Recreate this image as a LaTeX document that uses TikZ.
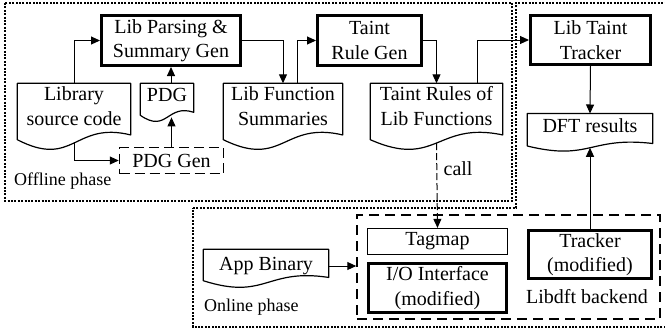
\documentclass[tikz,border=0pt]{standalone}
\usepackage{fontspec}
\setmainfont{Liberation Serif}
\usetikzlibrary{calc,arrows.meta}

\newcommand{\docframe}[3]{%
  \draw[docline] (#1.north west) -- (#1.north east)
    -- ($(#1.south east)+(0,{#2-0.5*#3})$)
    .. controls ($(#1.south)+(0,{#2-1.98*#3})$) and ($(#1.south)+(0,{#2+3.08*#3})$) ..
    ($(#1.south west)+(0,#2)$) -- cycle;
  \coordinate (#1-b) at ($(#1.south)+(0,{#2+0.35*#3})$);
}

\begin{document}
\begin{tikzpicture}[x=1pt,y=-1pt,
    every node/.style={font=\fontsize{20}{24.5}\selectfont},
    heavybox/.style={draw,line width=3pt,inner sep=0pt,align=center},
    plainbox/.style={draw,line width=1.2pt,inner sep=0pt,align=center},
    genbox/.style={draw,line width=1.5pt,dash pattern=on 10pt off 5pt,inner sep=0pt,align=center},
    doc/.style={inner sep=0pt,align=center},
    docline/.style={line width=1.2pt,line join=round},
    phase/.style={line width=1.6pt,dash pattern=on 2pt off 1.4pt},
    flow/.style={line width=1pt,-{Triangle[length=9pt,width=8pt]}},
    calldash/.style={line width=1pt,dash pattern=on 7pt off 3pt,-{Triangle[length=9pt,width=8pt]}},
    note/.style={font=\fontsize{18}{20}\selectfont,inner sep=0pt}]
    \useasboundingbox (0,0) rectangle (665,335);
    \clip (0,0) rectangle (665,335);

    % phases
    \draw[phase] (5,3) rectangle (512,201);
    \draw[phase] (193,208) -- (516,208) -- (516,3) -- (680,3) -- (680,327) -- (193,327) -- cycle;
    \node[note,anchor=west] (offline) at (14,181) {Offline phase};
    \node[note,anchor=west] (online) at (204,307) {Online phase};

    % offline part
    \node[heavybox,minimum width=139pt,minimum height=50pt] (parse) at (171,40.5) {Lib Parsing \&\\Summary Gen};
    \node[heavybox,minimum width=104pt,minimum height=50pt] (taintgen) at (369.5,40.5) {Taint\\Rule Gen};
    \node[heavybox,minimum width=120pt,minimum height=49pt] (libtracker) at (590.5,40) {Lib Taint\\Tracker};
    \node[doc,minimum width=113pt,minimum height=45pt] (libsrc) at (74,106) {Library\\source code};
    \node[doc,minimum width=53pt,minimum height=23pt] (pdg) at (167,95) {PDG};
    \node[doc,minimum width=119pt,minimum height=45pt] (summ) at (283,106) {Lib Function\\Summaries};
    \node[doc,minimum width=132pt,minimum height=45pt] (rules) at (436.5,106) {Taint Rules of\\Lib Functions};
    \node[doc,minimum width=125pt,minimum height=24.6pt] (dft) at (590,126) {DFT results};
    \node[genbox,minimum width=104pt,minimum height=26pt] (pdggen) at (171.5,160.5) {PDG Gen};
    \docframe{libsrc}{11}{9.5}
    \docframe{pdg}{8.6}{6}
    \docframe{summ}{11}{9.5}
    \docframe{rules}{11}{9.5}
    \docframe{dft}{7.5}{5}

    % online part
    \node[draw,line width=1.5pt,dash pattern=on 10pt off 6pt,minimum width=303pt,minimum height=104pt] (libdft) at (508.5,267) {};
    \node[plainbox,minimum width=140pt,minimum height=26pt] (tagmap) at (437.5,241.5) {Tagmap};
    \node[heavybox,minimum width=138pt,minimum height=49pt] (io) at (437.5,288) {I/O Interface\\(modified)};
    \node[heavybox,minimum width=123pt,minimum height=48pt] (tracker) at (590,254.5) {Tracker\\(modified)};
    \node (backend) at (587,297) {Libdft backend};
    \node[doc,minimum width=125pt,minimum height=33pt] (appbin) at (266,266) {App Binary};
    \docframe{appbin}{-2}{6.5}

    \draw[flow] (libsrc.north) |- (parse.west);
    \draw[flow] (libsrc-b) |- (pdggen.west);
    \draw[flow] (pdggen.north) -- (pdggen.north |- pdg-b);
    \draw[flow] (parse.south |- pdg.north) -- (parse.south);
    \draw[flow] (parse.east) -| (summ.north);
    \draw[flow] ($(summ.north)+(14,0)$) |- (taintgen.west);
    \draw[flow] (taintgen.east) -| (rules.north);
    \draw[flow] ($(rules.north)+(40.5,0)$) |- (libtracker.west);
    \draw[flow] (libtracker.south) -- (dft.north);
    \draw[flow] (tracker.north) -- (dft-b);
    \draw[calldash] (rules-b) -- (tagmap.north) node[pos=0.3,right=3pt] {call};
    \draw[flow] (appbin.east) -- (appbin.east -| libdft.west);
\end{tikzpicture}
\end{document}
